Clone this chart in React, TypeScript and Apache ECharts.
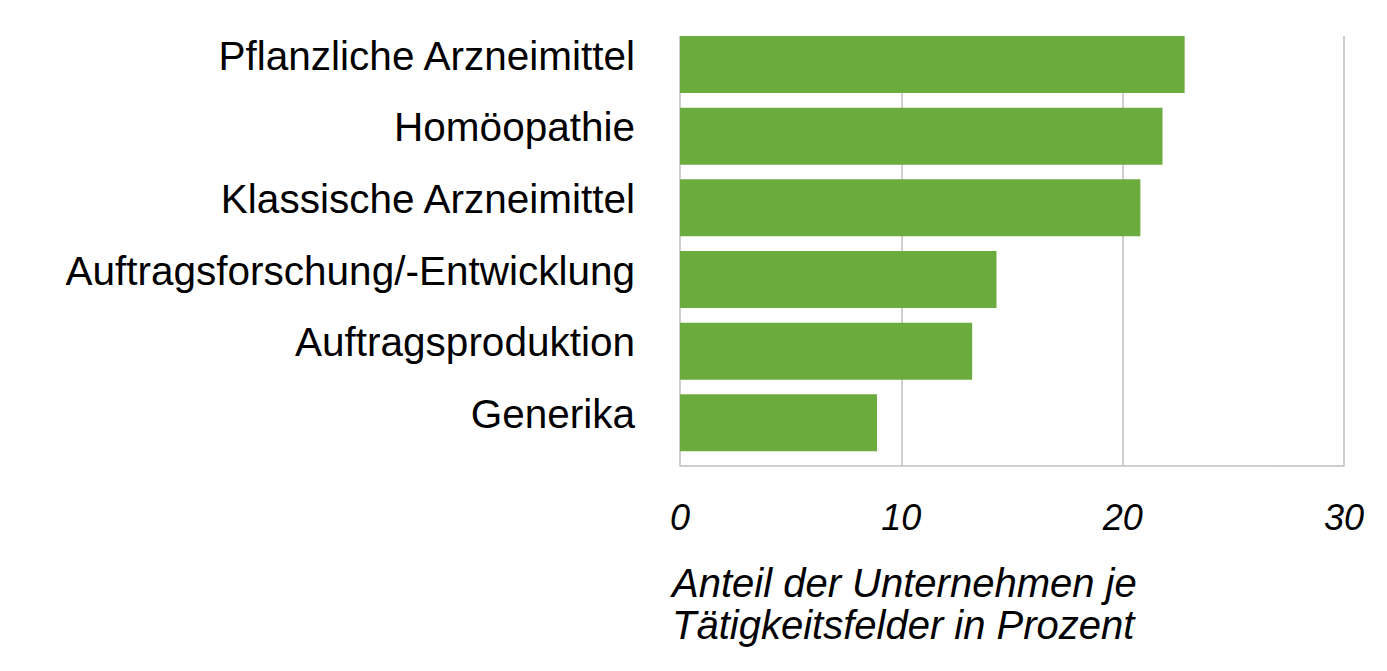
import React, { useEffect, useRef } from "react";
import * as echarts from "echarts";

const categories = [
  "Pflanzliche Arzneimittel",
  "Homöopathie",
  "Klassische Arzneimittel",
  "Auftragsforschung/-Entwicklung",
  "Auftragsproduktion",
  "Generika",
];
const values = [22.8, 21.8, 20.8, 14.3, 13.2, 8.9];
const axisNameLines = ["Anteil der Unternehmen je", "Tätigkeitsfelder in Prozent"];

const FONT = "'Liberation Sans', Arial, sans-serif";

export default function App() {
  const ref = useRef<HTMLDivElement>(null);
  useEffect(() => {
    if (!ref.current) return;
    const chart = echarts.init(ref.current, undefined, { renderer: "svg" });
    chart.setOption({
      animation: false,
      backgroundColor: "#ffffff",
      grid: [
        { left: 680, top: 28.67, width: 664, height: 430 },
        { left: 680, top: 36, width: 664, height: 430 },
      ],
      xAxis: [
        { gridIndex: 0, type: "value", min: 0, max: 30, show: false },
        {
          gridIndex: 1,
          type: "value",
          min: 0,
          max: 30,
          interval: 10,
          axisLine: { show: true, lineStyle: { color: "#bfbfbf", width: 1.5 } },
          axisTick: { show: false },
          splitLine: { show: true, lineStyle: { color: "#bfbfbf", width: 1.5 } },
          axisLabel: {
            fontFamily: FONT,
            fontSize: 36,
            fontStyle: "italic",
            color: "#000",
            margin: 33,
          },
        },
      ],
      yAxis: [
        {
          gridIndex: 0,
          type: "category",
          inverse: true,
          data: categories,
          axisLine: { show: false },
          axisTick: { show: false },
          splitLine: { show: false },
          axisLabel: {
            fontFamily: FONT,
            fontSize: 40.5,
            color: "#000",
            margin: 45,
            verticalAlign: "bottom",
            lineHeight: 18,
          },
        },
        {
          gridIndex: 1,
          type: "category",
          inverse: true,
          data: categories,
          show: false,
        },
      ],
      series: [
        {
          type: "bar",
          xAxisIndex: 0,
          yAxisIndex: 0,
          data: values,
          barWidth: 57,
          itemStyle: { color: "#6cab3e" },
        },
      ],
      graphic: axisNameLines.map((t, i) => ({
        type: "text",
        left: 672,
        top: 563 + i * 42,
        style: {
          text: t,
          fontFamily: FONT,
          fontSize: 40,
          fontStyle: "italic",
          fill: "#000",
        },
      })),
    });
    return () => chart.dispose();
  }, []);
  return (
    <div
      ref={ref}
      style={{ position: "fixed", left: 0, top: 0, width: 1387, height: 671 }}
    />
  );
}
